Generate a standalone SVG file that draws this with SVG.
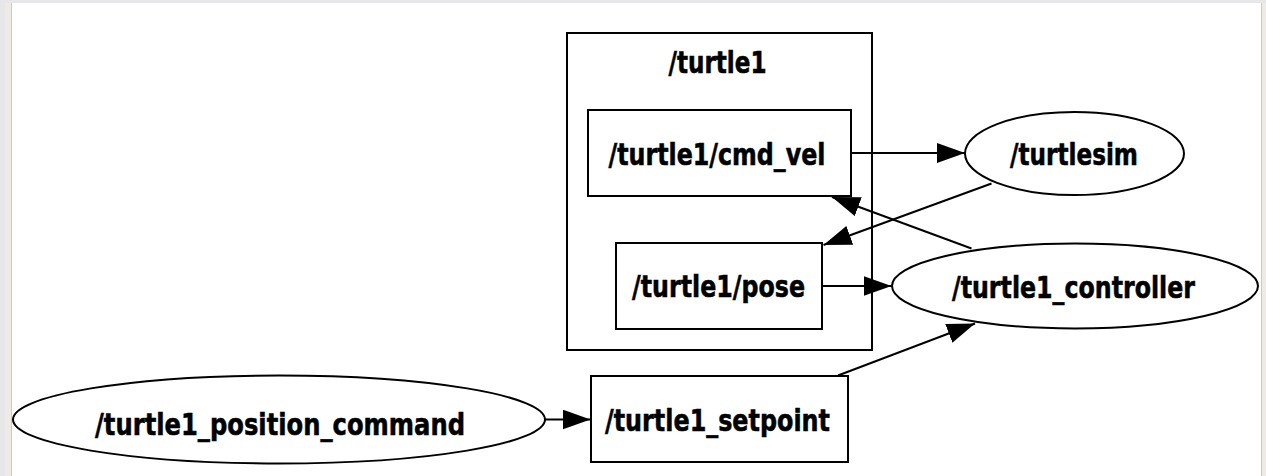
<svg xmlns="http://www.w3.org/2000/svg" width="1266" height="476" viewBox="0 0 1266 476">
<defs>
<style>
.bg{fill:#ffffff}
.shape{fill:#ffffff;stroke:#000000;stroke-width:2}
.cluster{fill:none;stroke:#000000;stroke-width:2}
.lbl{font-family:"DejaVu Sans","Liberation Sans",sans-serif;font-weight:bold;font-size:31px;fill:#000000;stroke:#000000;stroke-width:0.6;text-anchor:middle}
.edge{fill:none;stroke:#000000;stroke-width:2;marker-end:url(#arrow)}
</style>
<marker id="arrow" markerUnits="userSpaceOnUse" markerWidth="30" markerHeight="22" refX="28" refY="10" orient="auto" viewBox="0 0 30 22">
<path d="M0,0 L28,10 L0,20 Z" fill="#000000"/>
</marker>
</defs>
<rect x="0" y="0" width="1266" height="476" fill="#e7e7e9"/>
<rect x="5" y="3" width="1261" height="473" fill="#eeebe7"/>
<rect x="11" y="3" width="1251" height="473" fill="#c9c9c9"/>
<rect class="bg" x="12" y="3" width="1249" height="473"/>

<g id="cluster_turtle1">
<rect class="cluster" x="567" y="33" width="305" height="317"/>
<text class="lbl" x="717.5" y="73" textLength="98" lengthAdjust="spacingAndGlyphs">/turtle1</text>
</g>

<g id="node_cmd_vel">
<rect class="shape" x="588" y="110" width="263" height="86"/>
<text class="lbl" x="717" y="164.5" textLength="217" lengthAdjust="spacingAndGlyphs">/turtle1/cmd_vel</text>
</g>

<g id="node_pose">
<rect class="shape" x="616" y="243" width="206" height="86"/>
<text class="lbl" x="718.5" y="297" textLength="173" lengthAdjust="spacingAndGlyphs">/turtle1/pose</text>
</g>

<g id="node_turtlesim">
<ellipse class="shape" cx="1074.5" cy="153.5" rx="109.5" ry="41.5"/>
<text class="lbl" x="1074" y="165" textLength="128" lengthAdjust="spacingAndGlyphs">/turtlesim</text>
</g>

<g id="node_controller">
<ellipse class="shape" cx="1075" cy="286" rx="183" ry="42.5"/>
<text class="lbl" x="1073.5" y="298" textLength="243" lengthAdjust="spacingAndGlyphs">/turtle1_controller</text>
</g>

<g id="node_setpoint">
<rect class="shape" x="591" y="376" width="257" height="86"/>
<text class="lbl" x="717.5" y="430.5" textLength="225" lengthAdjust="spacingAndGlyphs">/turtle1_setpoint</text>
</g>

<g id="node_position_command">
<ellipse class="shape" cx="279" cy="419.5" rx="266" ry="44"/>
<text class="lbl" x="280" y="435" textLength="370" lengthAdjust="spacingAndGlyphs">/turtle1_position_command</text>
</g>

<g id="connectors">
<path class="edge" d="M851,153 L965,153"/>
<path class="edge" d="M991.5,183.5 L823.5,245"/>
<path class="edge" d="M971.5,248.5 L832,197"/>
<path class="edge" d="M822,286 L891.5,286"/>
<path class="edge" d="M838,375.5 L975,323.5"/>
<path class="edge" d="M545,419.5 L590.5,419.5"/>
</g>
</svg>
